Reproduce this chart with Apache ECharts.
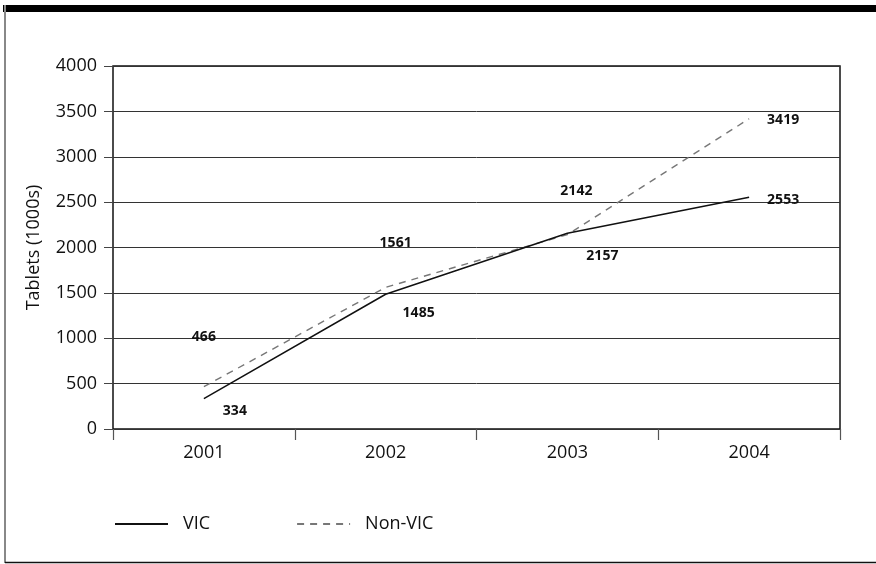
<!DOCTYPE html>
<html>
<head>
<meta charset="utf-8">
<script src="https://cdn.jsdelivr.net/npm/echarts@6/dist/echarts.min.js"></script>
<style>
  html, body { margin: 0; padding: 0; background: #fff; }
  #chart { width: 876px; height: 564px; }
</style>
</head>
<body>
<div id="chart"></div>
<script>
// Tablet sales in thousands, by year
const years = ['2001', '2002', '2003', '2004'];
const vic = [334, 1485, 2157, 2553];
const nonVic = [466, 1561, 2142, 3419];
const yTicks = [0, 500, 1000, 1500, 2000, 2500, 3000, 3500, 4000];

// per-point label offsets (px) so values sit clear of the lines
const vicLabelOffsets = [[31, 12], [33, 19], [35, 23], [34, 3]];
const nonVicLabelOffsets = [[0, -50], [10, -44], [9, -44], [34, 1]];

const FONT = '"Open Sans", "Noto Sans", sans-serif';

function withLabels(values, offsets) {
  return values.map((v, i) => ({
    value: v,
    label: { offset: offsets[i] }
  }));
}

const valueLabel = {
  show: true,
  position: 'inside',
  fontFamily: FONT,
  fontSize: 14,
  fontWeight: 'bold',
  color: '#111',
  formatter: p => String(p.value)
};

const chart = echarts.init(document.getElementById('chart'), null, { renderer: 'canvas' });

chart.setOption({
  animation: false,
  backgroundColor: '#fff',
  grid: {
    left: 113, right: 36, top: 66, bottom: 135,
    show: true, borderColor: '#111', borderWidth: 1.5, backgroundColor: 'transparent'
  },
  xAxis: {
    type: 'category',
    data: years,
    boundaryGap: true,
    offset: 2,
    axisLine: { show: false },
    axisTick: { show: true, length: 11, lineStyle: { color: '#555', width: 1.2 } },
    axisLabel: { margin: 13, fontFamily: FONT, fontSize: 18, color: '#111' },
    splitLine: { show: false }
  },
  yAxis: {
    type: 'value',
    min: yTicks[0],
    max: yTicks[yTicks.length - 1],
    interval: yTicks[1] - yTicks[0],
    name: 'Tablets (1000s)',
    nameLocation: 'middle',
    nameGap: 70,
    nameRotate: 90,
    nameTextStyle: { fontFamily: FONT, fontSize: 18, color: '#111' },
    axisLine: { show: false },
    axisTick: { show: true, length: 9, lineStyle: { color: '#444', width: 1 } },
    axisLabel: {
      margin: 16, fontFamily: FONT, fontSize: 18, color: '#111',
      formatter: v => String(v)
    },
    splitLine: { show: true, lineStyle: { color: '#333', width: 1 } }
  },
  legend: {
    left: 109,
    top: 510,
    itemWidth: 53,
    itemHeight: 14,
    itemGap: 86,
    itemStyle: { opacity: 0 },
    textStyle: { fontFamily: FONT, fontSize: 18, color: '#111', padding: [0, 0, 0, 10] },
    data: ['VIC', 'Non-VIC']
  },
  series: [
    {
      name: 'VIC',
      type: 'line',
      data: withLabels(vic, vicLabelOffsets),
      symbol: 'circle',
      symbolSize: 0.01,
      itemStyle: { color: '#111' },
      lineStyle: { color: '#111', width: 1.5 },
      label: valueLabel,
      z: 3
    },
    {
      name: 'Non-VIC',
      type: 'line',
      data: withLabels(nonVic, nonVicLabelOffsets),
      symbol: 'circle',
      symbolSize: 0.01,
      itemStyle: { color: '#777' },
      lineStyle: { color: '#777', width: 1.4, type: [7, 6] },
      label: valueLabel,
      z: 2
    }
  ],
  graphic: [
    // frame: heavy rule along the top, thin rules left and bottom
    { type: 'rect', shape: { x: 3, y: 5, width: 873, height: 7 }, style: { fill: '#000' }, silent: true },
    { type: 'line', shape: { x1: 5, y1: 5, x2: 5, y2: 563 }, style: { stroke: '#888', lineWidth: 2 }, silent: true },
    { type: 'line', shape: { x1: 5, y1: 562.5, x2: 876, y2: 562.5 }, style: { stroke: '#111', lineWidth: 1.5 }, silent: true }
  ]
});
</script>
</body>
</html>
